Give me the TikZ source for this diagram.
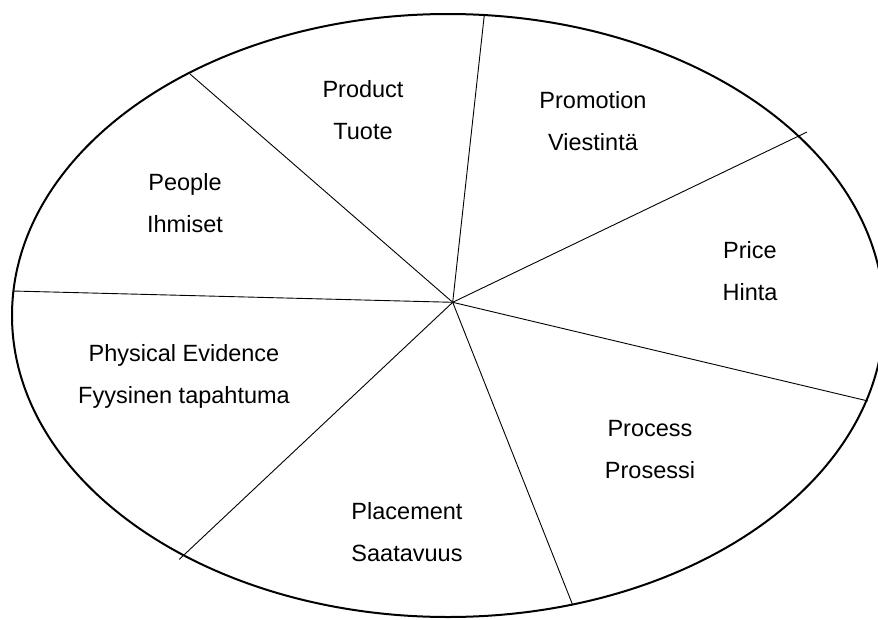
\documentclass[tikz,border=0pt]{standalone}
\usepackage{fontspec}
\setmainfont{Liberation Sans}
\begin{document}
\begin{tikzpicture}[x=1pt, y=-1pt,
  rim/.style={line width=2pt},
  spoke/.style={line width=0.9pt},
  lbl/.style={align=center, inner sep=0pt,
              font=\fontsize{23.5}{42}\selectfont},
]
  \useasboundingbox (0,0) rectangle (878,619);

  % outer ellipse
  \draw[rim] (448,315.5) ellipse [x radius=436, y radius=301.5];

  % hub and rim points
  \coordinate (hub) at (452.7,302.3);
  \coordinate (pTop) at (484.3,15);
  \coordinate (pUR) at (807,132);
  \coordinate (pR) at (868,401);
  \coordinate (pB) at (572.7,605);
  \coordinate (pLL) at (179.3,559.3);
  \coordinate (pL) at (12.7,291);
  \coordinate (pUL) at (190,74);

  \foreach \p in {pTop,pUR,pR,pB,pLL,pL,pUL}
    \draw[spoke] (hub) -- (\p);

  % sector labels
  \node[lbl] (product) at (363,110) {Product\\Tuote};
  \node[lbl] (promotion) at (593,121.5) {Promotion\\Viestintä};
  \node[lbl] (people) at (185,203.5) {People\\Ihmiset};
  \node[lbl] (price) at (750,271.5) {Price\\Hinta};
  \node[lbl] (evidence) at (184,376.5) {Physical Evidence\\Fyysinen tapahtuma};
  \node[lbl] (process) at (650,450) {Process\\Prosessi};
  \node[lbl] (placement) at (407,532.5) {Placement\\Saatavuus};
\end{tikzpicture}
\end{document}
